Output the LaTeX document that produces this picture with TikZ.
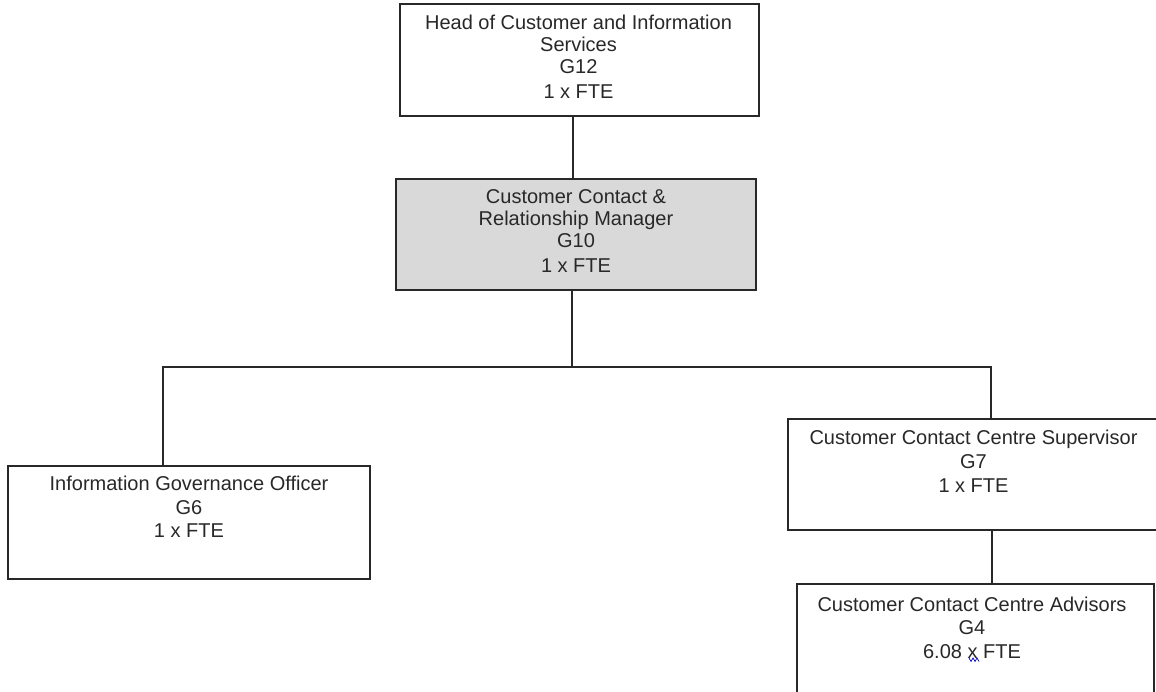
\documentclass[tikz,border=0pt]{standalone}
\usepackage{fontspec}
\setmainfont{Liberation Sans}
\definecolor{boxgray}{RGB}{217,217,217}
\definecolor{inkgray}{RGB}{40,40,40}
\tikzset{
  post/.style={draw=inkgray, line width=1.3pt, inner sep=0pt},
  role/.style={inner sep=0pt, align=center, font=\fontsize{20}{22}\selectfont, text=inkgray, anchor=north},
  link/.style={draw=inkgray, line width=1.2pt},
  squiggle/.style={draw=blue!80!black, line width=0.7pt}
}
\begin{document}
\begin{tikzpicture}[x=1pt,y=-1pt]
\useasboundingbox (0,0) rectangle (1156,692);
% boxes
\node[post, minimum width=359pt, minimum height=112pt] (head) at (579.5,60) {};
\node[post, fill=boxgray, minimum width=360pt, minimum height=111pt] (mgr) at (576,234.5) {};
\node[post, minimum width=362pt, minimum height=113pt] (igo) at (189,522.5) {};
\node[post, minimum width=371pt, minimum height=111pt] (sup) at (973.5,474.5) {};
\node[post, minimum width=357pt, minimum height=112pt] (adv) at (975.5,640) {};
% texts
\node[role] (headt) at (578.5,15) {Head of Customer and Information\\Services\\G12\\[3pt]1 x FTE};
\node[role] (mgrt) at (576,189) {Customer Contact \&\\Relationship Manager\\G10\\[3pt]1 x FTE};
\node[role] (igot) at (189,476) {Information Governance Officer\\[1.5pt]G6\\[1.5pt]1 x FTE};
\node[role] (supt) at (973.5,430) {Customer Contact Centre Supervisor\\[1.5pt]G7\\[2pt]1 x FTE};
\node[role] (advt) at (972,596.5) {Customer Contact Centre Advisors\\[1.5pt]G4\\[2pt]6.08 x FTE};
% connectors
\coordinate (jt) at (573,150);
\coordinate (jm) at (572,367);
\coordinate (bl) at (163,367);
\coordinate (br) at (991,367);
\coordinate (ja) at (992,557);
\draw[link] (head.south -| jt) -- (mgr.north -| jt);
\draw[link] (mgr.south -| jm) -- (jm);
\draw[link] (igo.north -| bl) -- (bl) -- (br) -- (sup.north -| br);
\draw[link] (sup.south -| ja) -- (adv.north -| ja);
% spell-check mark under the x
\draw[squiggle] (969,658) -- (971,661.5) -- (973,658) -- (975,661.5) -- (977,658) -- (979,661.5);
\end{tikzpicture}
\end{document}
